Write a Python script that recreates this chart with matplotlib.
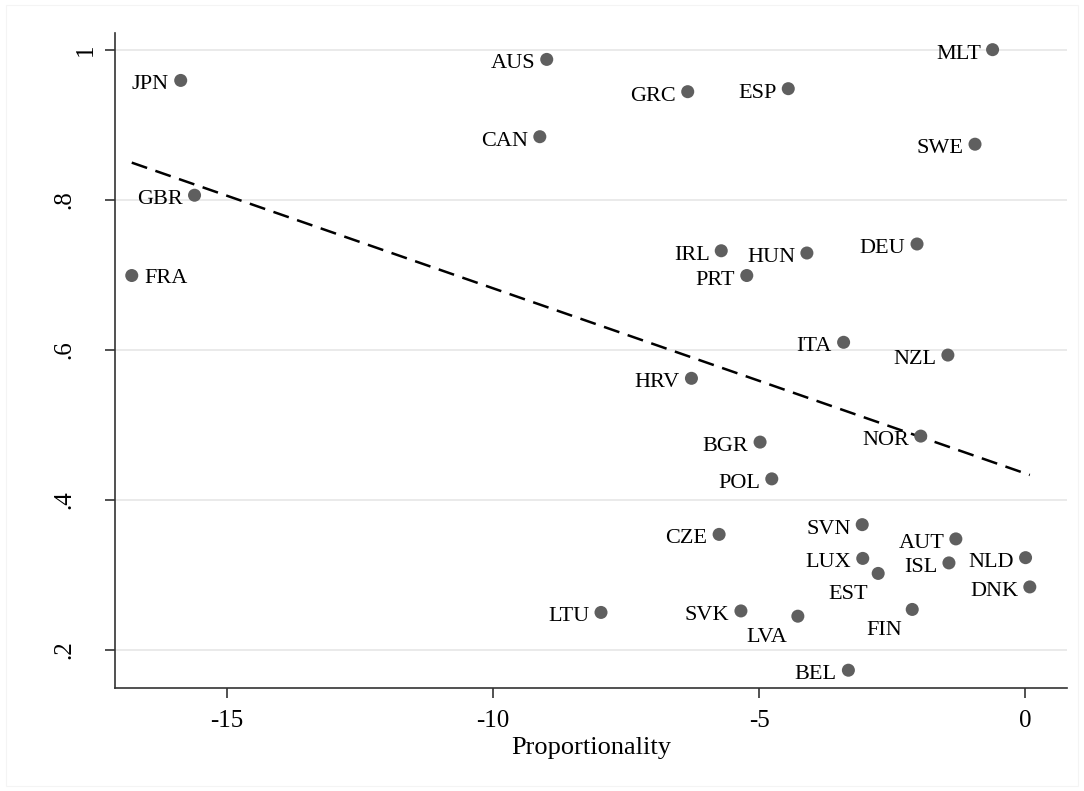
"""Scatter of proportionality vs. outcome by country, with a linear fit."""

import matplotlib

matplotlib.use("Agg")

import matplotlib.pyplot as plt
import numpy as np
from matplotlib.patches import Rectangle

# Data
countries = [
    "JPN", "AUS", "CAN", "GBR", "FRA", "MLT", "GRC", "ESP", "SWE", "IRL",
    "HUN", "PRT", "DEU", "ITA", "NZL", "HRV", "BGR", "NOR", "POL", "CZE",
    "SVN", "AUT", "LUX", "ISL", "NLD", "EST", "DNK", "LTU", "SVK", "LVA",
    "FIN", "BEL",
]
proportionality = [
    -15.87, -8.99, -9.12, -15.61, -16.79, -0.61, -6.34, -4.45, -0.94, -5.71,
    -4.10, -5.23, -2.03, -3.41, -1.45, -6.27, -4.98, -1.96, -4.76, -5.75,
    -3.06, -1.30, -3.05, -1.43, 0.01, -2.76, 0.09, -7.97, -5.34, -4.27,
    -2.12, -3.32,
]
outcome = [
    0.959, 0.987, 0.884, 0.806, 0.699, 1.000, 0.944, 0.948, 0.874, 0.732,
    0.729, 0.699, 0.741, 0.610, 0.593, 0.562, 0.477, 0.485, 0.428, 0.354,
    0.367, 0.348, 0.322, 0.316, 0.323, 0.302, 0.284, 0.250, 0.252, 0.245,
    0.254, 0.173,
]
xticks = [-15, -10, -5, 0]
xtick_labels = ["-15", "-10", "-5", "0"]
yticks = [0.2, 0.4, 0.6, 0.8, 1.0]
ytick_labels = [".2", ".4", ".6", ".8", "1"]

# Label placement (Stata clock positions): default is 9 o'clock
right_labels = {"FRA"}
below_left_labels = {"EST", "LVA", "FIN"}

plt.rcParams["font.family"] = ["Liberation Serif", "DejaVu Serif"]

fig = plt.figure(figsize=(10.84, 7.91), dpi=100)
fig.patches.append(
    Rectangle((6 / 1084, 5 / 791), 1 - 12 / 1084, 1 - 10 / 791,
              transform=fig.transFigure, fill=False,
              edgecolor="#f4f4f4", linewidth=0.8)
)
ax = fig.add_axes([115 / 1084, 1 - 688 / 791, 952 / 1084, 655 / 791])

x = np.array(proportionality)
y = np.array(outcome)

# Horizontal grid
for yt in yticks:
    ax.axhline(yt, color="#e8e8e8", linewidth=1.3, zorder=0)

# Linear fit
slope, intercept = np.polyfit(x, y, 1)
xs = np.array([x.min(), x.max()])
ax.plot(xs, intercept + slope * xs - 0.003, color="black", linewidth=1.8,
        linestyle=(0, (6.5, 3.5)), zorder=2)

ax.scatter(x, y, s=88, color="#5f5f5f", edgecolors="none", zorder=3)

for code, xi, yi in zip(countries, x, y):
    if code in right_labels:
        offset, ha = (9, -5.5), "left"
    elif code in below_left_labels:
        offset, ha = (-7.5, -18.7), "right"
    else:
        offset, ha = (-8.4, -6.5), "right"
    ax.annotate(code, xy=(xi, yi), xytext=offset, textcoords="offset points",
                ha=ha, va="baseline", fontsize=16, color="black", zorder=4)

ax.set_xlim(-17.105, 0.789)
ax.set_ylim(0.1493, 1.0222)

for side in ["top", "right"]:
    ax.spines[side].set_visible(False)
for side in ["left", "bottom"]:
    ax.spines[side].set_color("#333333")
    ax.spines[side].set_linewidth(1.2)

ax.set_xticks(xticks, xtick_labels)
ax.set_yticks(yticks)
ax.tick_params(axis="both", direction="out", length=7.5, width=1.2,
               color="#333333")
ax.tick_params(axis="x", labelsize=18, pad=8, labelcolor="black")
ax.tick_params(axis="y", labelleft=False)

# Rotated y tick labels, placed the way Stata does it
ytrans = ax.get_yaxis_transform()
for yt, lab in zip(yticks, ytick_labels):
    dx = -16.6 if lab == "1" else -32.4
    ax.annotate(lab, xy=(0, yt), xycoords=ytrans, xytext=(dx, 0),
                textcoords="offset points", rotation=90,
                rotation_mode="anchor", ha="center", va="baseline",
                fontsize=18, color="black")

ax.set_xlabel("Proportionality", fontsize=19, labelpad=4, color="black")

fig.savefig("out.png", dpi=100)
plt.close(fig)
